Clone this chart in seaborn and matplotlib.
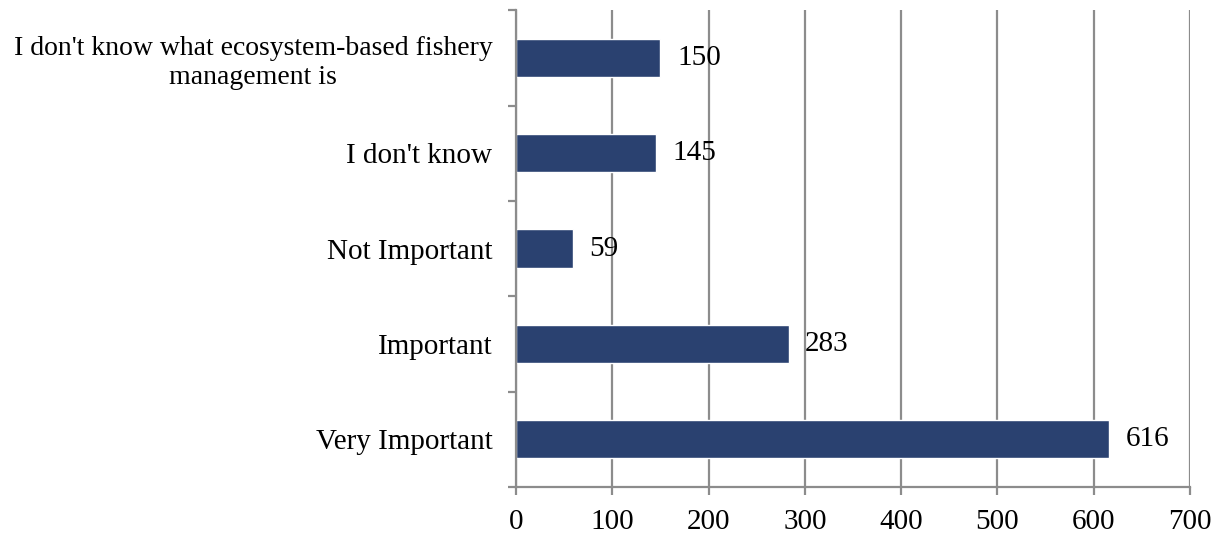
import pandas as pd
import matplotlib.pyplot as plt
import seaborn as sns

# Survey answers (top to bottom as shown)
categories = [
    "I don't know what ecosystem-based fishery\nmanagement is",
    "I don't know",
    "Not Important",
    "Important",
    "Very Important",
]
counts = [150, 145, 59, 283, 616]
x_ticks = [0, 100, 200, 300, 400, 500, 600, 700]

data = pd.DataFrame({"answer": categories, "count": counts})

sns.set_style("white")
plt.rcParams['font.family'] = ['Liberation Serif', 'DejaVu Serif']
plt.rcParams['text.color'] = 'black'
plt.rcParams['xtick.color'] = 'black'
plt.rcParams['ytick.color'] = 'black'

fig = plt.figure(figsize=(12.2, 5.33), dpi=100)
ax = fig.add_axes([0.423, 0.0863, 0.5524, 0.8947])

sns.barplot(x="count", y="answer", data=data, orient="h", color="#2a4170",
            width=0.4, saturation=1, ax=ax)

gray = "#8c8c8c"
ax.set_xlim(0, 700)
ax.set_ylim(4.5, -0.5)
ax.set_xticks(x_ticks)
ax.xaxis.grid(True, color=gray, linewidth=1.6)
ax.set_axisbelow(True)

for side in ["top", "right"]:
    ax.spines[side].set_visible(False)
for side in ["left", "bottom"]:
    ax.spines[side].set_color(gray)
    ax.spines[side].set_linewidth(1.6)

# category ticks sit between the bars
ax.set_yticks([-0.5, 0.5, 1.5, 2.5, 3.5, 4.5], minor=True)
ax.tick_params(axis="y", which="major", left=True, length=0, pad=17,
               labelsize=21, labelcolor="black")
ax.tick_params(axis="y", which="minor", left=True, length=6, width=1.6,
               color=gray, direction="out")
ax.tick_params(axis="x", bottom=True, length=6, width=1.6, color=gray,
               direction="out", labelsize=21, labelcolor="black", pad=10)
for lbl in ax.get_yticklabels():
    lbl.set_multialignment("center")
# the long wrapped label is a bit tighter so it fits
ax.get_yticklabels()[0].set_fontsize(20)

for cont in ax.containers:
    ax.bar_label(cont, padding=12, fontsize=21, color="black")

ax.set_xlabel("")
ax.set_ylabel("")

plt.savefig("out.png", dpi=100)
plt.close()
